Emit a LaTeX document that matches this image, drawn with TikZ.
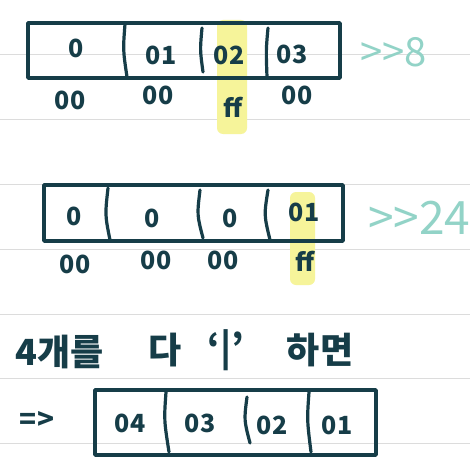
\documentclass[tikz,border=0pt]{standalone}
\usepackage{fontspec}
\setmainfont{Noto Sans CJK KR}
\definecolor{ink}{HTML}{163D48}
\definecolor{tealink}{HTML}{92D3C7}
\definecolor{hl}{HTML}{F6F49A}
\definecolor{rule}{HTML}{DCDCDC}
\tikzset{
  cellbox/.style={draw=ink, line width=3.4pt, line join=round},
  divider/.style={draw=ink, line width=3.2pt, line cap=round},
  val/.style={text=ink, font=\bfseries\fontsize{25}{25}\selectfont, inner sep=0pt},
  mask/.style={text=ink, font=\bfseries\fontsize{25}{25}\selectfont, inner sep=0pt},
  shiftlabel/.style={text=tealink, font=\fontsize{40}{40}\selectfont, inner sep=0pt, anchor=west},
  korean/.style={text=ink, font=\bfseries\fontsize{36}{36}\selectfont, inner sep=0pt},
  hlmark/.style={fill=hl, rounded corners=6pt},
  ruled/.style={draw=rule, line width=0.9pt}
}
\begin{document}
\begin{tikzpicture}[x=1pt,y=-1pt]
\useasboundingbox (0,0) rectangle (470,468);
\fill[white] (0,0) rectangle (470,468);
% ruled lines
\foreach \yy in {54,119,184,249,314,378,443} \draw[ruled] (0,\yy) -- (470,\yy);
% highlights
\fill[hlmark] (217,20) rectangle (247,134);
\fill[hlmark] (290,192) rectangle (315,285);
% ---- box 1
\draw[cellbox] (28,23) rectangle (340,78);
\draw[divider] (125,24) .. controls (123,50) .. (127,77);
\draw[divider] (202,28) .. controls (200,50) .. (203,72);
\draw[divider] (268,28) .. controls (266,50) .. (267,77);
\node[val] (a1) at (76,48) {0};
\node[val] (a2) at (161,55) {01};
\node[val] (a3) at (229,55) {02};
\node[val] (a4) at (292,54) {03};
\node[mask] (m1) at (70,100) {00};
\node[mask] (m2) at (158,95) {00};
\node[mask] (m3) at (233,107) {f{}f};
\node[mask] (m4) at (297,95) {00};
\node[shiftlabel] (s1) at (360,52) {{>}{>}8};
% ---- box 2
\draw[cellbox] (44,185) rectangle (343,241);
\draw[divider] (108,188) .. controls (105,215) .. (110,240);
\draw[divider] (200,190) .. controls (197,215) .. (203,238);
\draw[divider] (268,190) .. controls (264,215) .. (270,240);
\node[val] (b1) at (74,216) {0};
\node[val] (b2) at (152,218) {0};
\node[val] (b3) at (230,218) {0};
\node[val] (b4) at (304,212) {01};
\node[mask] (n1) at (75,264) {00};
\node[mask] (n2) at (156,260) {00};
\node[mask] (n3) at (223,260) {00};
\node[mask] (n4) at (305,261) {f{}f};
\node[shiftlabel, font=\fontsize{46}{46}\selectfont] (s2) at (368,218) {{>}{>}24};
% ---- Korean line
\node[korean, anchor=west] (k1) at (15,352) {4개를};
\node[korean] (k2) at (165,350) {다};
\node[korean] (k3) at (226,350) {‘|’};
\node[korean] (k4) at (320,350) {하면};
\node[korean, font=\bfseries\fontsize{28}{28}\selectfont] (arr) at (37,420) {=>};
% ---- box 3
\draw[cellbox] (95,390) rectangle (376,455);
\draw[divider] (166,392) .. controls (164,420) .. (169,452);
\draw[divider] (247,397) .. controls (244,420) .. (250,443);
\draw[divider] (309,392) .. controls (307,420) .. (311,452);
\node[val] (c1) at (130,423) {04};
\node[val] (c2) at (200,423) {03};
\node[val] (c3) at (272,425) {02};
\node[val] (c4) at (337,425) {01};
\end{tikzpicture}
\end{document}
